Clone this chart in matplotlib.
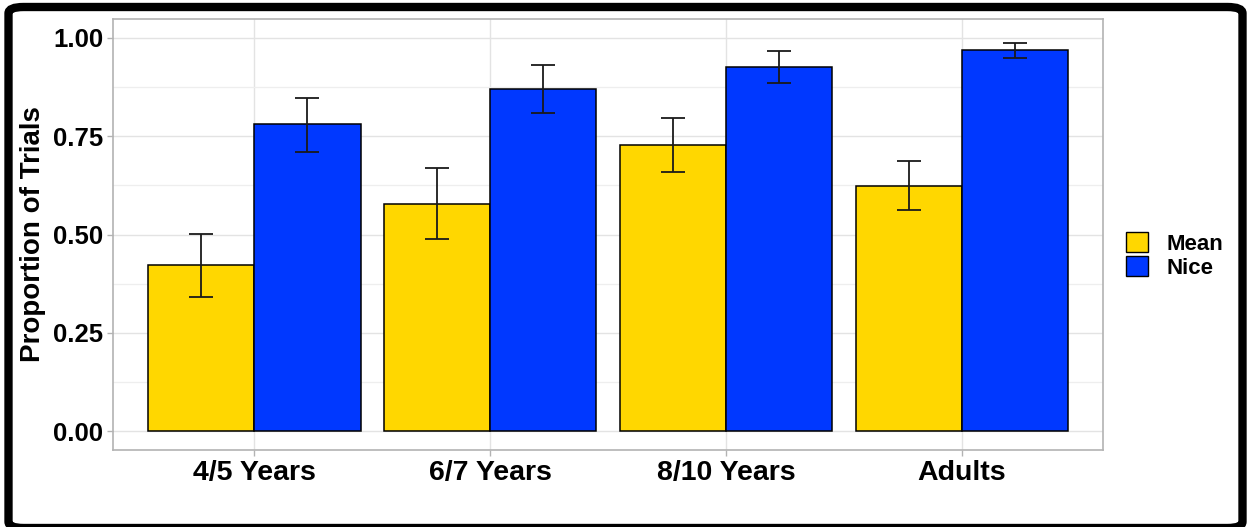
import numpy as np
import matplotlib.pyplot as plt
from matplotlib.patches import Patch, FancyBboxPatch

# Proportions per age group and condition, with error bar limits
groups = ["4/5 Years", "6/7 Years", "8/10 Years", "Adults"]
conditions = ["Mean", "Nice"]
mean_vals = [0.422, 0.578, 0.727, 0.624]
mean_lo = [0.341, 0.489, 0.659, 0.562]
mean_hi = [0.501, 0.668, 0.795, 0.687]
nice_vals = [0.780, 0.869, 0.925, 0.968]
nice_lo = [0.711, 0.808, 0.885, 0.948]
nice_hi = [0.847, 0.931, 0.967, 0.988]

colors = {"Mean": "#FFD700", "Nice": "#0038FF"}

plt.rcParams["font.family"] = ["Liberation Sans", "DejaVu Sans"]
plt.rcParams["font.weight"] = "bold"

W, H = 1253, 527
fig = plt.figure(figsize=(W / 100, H / 100), dpi=100)
ax = fig.add_axes([113 / W, 1 - 450 / H, (1103 - 113) / W, (450 - 19) / H])

x = np.arange(1, len(groups) + 1)
width = 0.45
series = [(mean_vals, mean_lo, mean_hi, "Mean", -width / 2),
          (nice_vals, nice_lo, nice_hi, "Nice", width / 2)]
for vals, lo, hi, name, off in series:
    vals = np.array(vals)
    ax.bar(x + off, vals, width=width, color=colors[name],
           edgecolor="black", linewidth=1.1, zorder=3)
    yerr = [vals - np.array(lo), np.array(hi) - vals]
    ax.errorbar(x + off, vals, yerr=yerr, fmt="none", ecolor="#1a1a1a",
                elinewidth=1.3, capsize=8.3, capthick=1.3, zorder=4)

ax.set_xlim(0.4, 4.6)
ax.set_ylim(-0.048, 1.048)
ax.set_xticks(x)
ax.set_xticklabels(groups, fontsize=20.5, fontweight="bold")
ax.set_yticks([0, 0.25, 0.5, 0.75, 1.0])
ax.set_yticklabels(["0.00", "0.25", "0.50", "0.75", "1.00"],
                   fontsize=18.5, fontweight="bold")
ax.set_yticks([0.125, 0.375, 0.625, 0.875], minor=True)
ax.tick_params(axis="both", which="major", length=4, width=1,
               color="#B3B3B3", pad=3, labelcolor="black")
ax.tick_params(axis="y", which="minor", length=0)
ax.tick_params(axis="x", pad=3)

ax.grid(which="major", color="#E3E3E3", linewidth=1.0, zorder=0)
ax.grid(which="minor", axis="y", color="#EEEEEE", linewidth=0.9, zorder=0)
ax.set_axisbelow(True)
for s in ax.spines.values():
    s.set_color("#B3B3B3")
    s.set_linewidth(1.2)

ax.set_ylabel("Proportion of Trials", fontsize=20, fontweight="bold")
ax.yaxis.set_label_coords(-(113 - 46) / (1103 - 113), 0.5)

handles = [Patch(facecolor=colors[c], edgecolor="black", linewidth=1.0)
           for c in conditions]
fig.legend(handles, conditions, loc="center left",
           bbox_to_anchor=(1126 / W, 1 - 255.5 / H), frameon=False,
           handlelength=1.0, handleheight=1.0,
           labelspacing=0.05, handletextpad=0.8, borderpad=0,
           borderaxespad=0, prop={"weight": "bold", "size": 16})

# thick rounded frame around the whole figure
frame = FancyBboxPatch((8.5 / W, 1 - 528 / H), (1242.5 - 8.5) / W, (528 - 7) / H,
                       boxstyle="round,pad=0,rounding_size=0.012",
                       transform=fig.transFigure, facecolor="none",
                       edgecolor="black", linewidth=6, clip_on=False)
fig.patches.append(frame)

fig.savefig("out.png", dpi=100)
